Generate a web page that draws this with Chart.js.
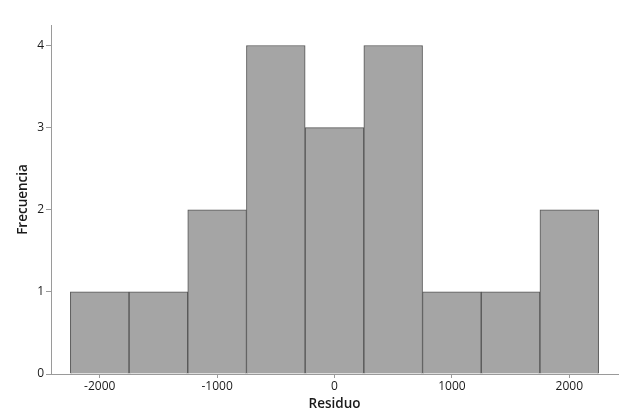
<!DOCTYPE html>
<html>
<head>
<meta charset="utf-8">
<script src="https://cdn.jsdelivr.net/npm/chart.js@4/dist/chart.umd.min.js"></script>
<style>
  html, body { margin: 0; padding: 0; background: #fff; }
  #wrap { width: 634px; height: 420px; }
</style>
</head>
<body>
<div id="wrap"><canvas id="hist"></canvas></div>
<script>
// Histogram data: bin midpoints (width 500) and counts
const binCenters = [-2000, -1500, -1000, -500, 0, 500, 1000, 1500, 2000];
const counts = [1, 1, 2, 4, 3, 4, 1, 1, 2];
const xTicks = [-2000, -1000, 0, 1000, 2000];
const yTicks = [0, 1, 2, 3, 4];

const axisGrey = '#9a9a9a';
const textColor = '#1a1a1a';

const ctx = document.getElementById('hist').getContext('2d');
new Chart(ctx, {
    type: 'bar',
    data: {
        datasets: [{
            label: 'Frecuencia',
            data: binCenters.map((x, i) => ({ x: x, y: counts[i] })),
            backgroundColor: '#a5a5a5',
            borderColor: '#555555',
            borderWidth: 1,
            barPercentage: 1,
            categoryPercentage: 1
        }]
    },
    options: {
        responsive: true,
        maintainAspectRatio: false,
        animation: false,
        layout: { padding: { top: 25, right: 16, bottom: 0, left: 0 } },
        plugins: {
            legend: { display: false },
            tooltip: { enabled: false }
        },
        scales: {
            x: {
                type: 'linear',
                min: -2415,
                max: 2415,
                offset: false,
                afterBuildTicks: (scale) => { scale.ticks = xTicks.map(v => ({ value: v })); },
                afterFit: (scale) => { scale.height = 46; },
                grid: { display: true, offset: false, drawOnChartArea: false, drawTicks: true, tickLength: 4, color: axisGrey },
                border: { display: true, color: axisGrey },
                ticks: {
                    color: textColor,
                    padding: 1,
                    font: { family: 'Open Sans', size: 12 },
                    callback: (v) => String(v)
                },
                title: {
                    display: true,
                    text: 'Residuo',
                    color: textColor,
                    font: { family: 'Open Sans', size: 13.5, weight: '600' },
                    padding: { top: 0, bottom: 8 }
                }
            },
            y: {
                min: 0,
                max: 4.25,
                afterBuildTicks: (scale) => { scale.ticks = yTicks.map(v => ({ value: v })); },
                afterFit: (scale) => { scale.width = 51; },
                grid: { display: true, drawOnChartArea: false, drawTicks: true, tickLength: 5, color: axisGrey },
                border: { display: true, color: axisGrey },
                ticks: {
                    color: textColor,
                    padding: 2,
                    font: { family: 'Open Sans', size: 12 }
                },
                title: {
                    display: true,
                    text: 'Frecuencia',
                    color: textColor,
                    font: { family: 'Open Sans', size: 13.5, weight: '600' },
                    padding: { top: 15, bottom: 0 }
                }
            }
        }
    }
});
</script>
</body>
</html>
